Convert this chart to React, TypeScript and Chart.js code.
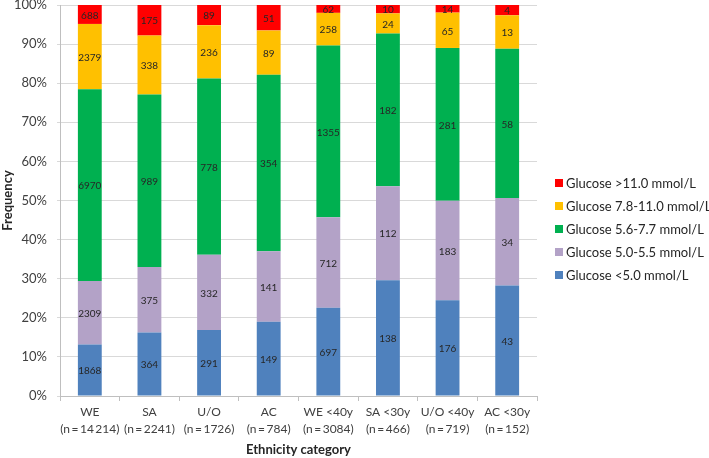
import React, { useEffect, useRef } from "react";
import { Chart, registerables } from "chart.js";

Chart.register(...registerables);

const categories: string[][] = [
  ["WE", "(n\u2009=\u200914\u2009214)"],
  ["SA", "(n\u2009=\u20092241)"],
  ["U/O", "(n\u2009=\u20091726)"],
  ["AC", "(n\u2009=\u2009784)"],
  ["WE <40y", "(n\u2009=\u20093084)"],
  ["SA <30y", "(n\u2009=\u2009466)"],
  ["U/O <40y", "(n\u2009=\u2009719)"],
  ["AC <30y", "(n\u2009=\u2009152)"],
];

const glucoseLt50 = [1868, 364, 291, 149, 697, 138, 176, 43];
const glucose50to55 = [2309, 375, 332, 141, 712, 112, 183, 34];
const glucose56to77 = [6970, 989, 778, 354, 1355, 182, 281, 58];
const glucose78to110 = [2379, 338, 236, 89, 258, 24, 65, 13];
const glucoseGt110 = [688, 175, 89, 51, 62, 10, 14, 4];

const seriesNames = [
  "Glucose <5.0 mmol/L",
  "Glucose 5.0-5.5 mmol/L",
  "Glucose 5.6-7.7 mmol/L",
  "Glucose 7.8-11.0 mmol/L",
  "Glucose >11.0 mmol/L",
];
const seriesColors = ["#4F81BD", "#B3A2C7", "#00B050", "#FFC000", "#FF0000"];
const yTicks = [0, 10, 20, 30, 40, 50, 60, 70, 80, 90, 100];

const FONT = "Lato, 'Open Sans', sans-serif";

export default function App() {
  const ref = useRef<HTMLCanvasElement>(null);
  useEffect(() => {
    document.body.style.margin = "0";
    const series = [glucoseLt50, glucose50to55, glucose56to77, glucose78to110, glucoseGt110];
    const totals = categories.map((_, i) => series.reduce((s, arr) => s + arr[i], 0));
    const labelPlugin = {
      id: "segLabels",
      afterDatasetsDraw(chart: any) {
        const ctx = chart.ctx;
        ctx.save();
        ctx.font = `10px ${FONT}`;
        ctx.fillStyle = "#262626";
        ctx.textAlign = "center";
        ctx.textBaseline = "middle";
        chart.data.datasets.forEach((ds: any, di: number) => {
          const meta = chart.getDatasetMeta(di);
          meta.data.forEach((el: any, i: number) => {
            const y = (el.y + el.base) / 2;
            ctx.fillText(String(ds.counts[i]), el.x, y + 1);
          });
        });
        ctx.restore();
      },
    };
    const legendPlugin = {
      id: "sideLegend",
      afterDraw(chart: any) {
        const ctx = chart.ctx;
        const ca = chart.chartArea;
        const n = chart.data.datasets.length;
        const rowH = 23;
        const cy = chart.height / 2;
        const x0 = ca.right + 18;
        ctx.save();
        ctx.font = `13px ${FONT}`;
        ctx.textBaseline = "middle";
        ctx.textAlign = "left";
        for (let k = 0; k < n; k++) {
          const di = n - 1 - k;
          const ds = chart.data.datasets[di];
          const y = cy + (k - (n - 1) / 2) * rowH;
          ctx.fillStyle = ds.backgroundColor;
          ctx.fillRect(x0, y - 4, 8, 8);
          ctx.fillStyle = "#262626";
          ctx.fillText(ds.label, x0 + 11, y + 1);
        }
        ctx.restore();
      },
    };
    const chart = new Chart(ref.current!, {
      type: "bar",
      data: {
        labels: categories,
        datasets: series.map((arr, si) => ({
          label: seriesNames[si],
          data: arr.map((v, i) => (v / totals[i]) * 100),
          counts: arr,
          backgroundColor: seriesColors[si],
          borderWidth: 0,
          barPercentage: 0.4,
          categoryPercentage: 1,
        })) as any,
      },
      options: {
        responsive: false,
        animation: false,
        layout: { padding: { left: 0, right: 172, top: 0, bottom: 0 } },
        plugins: {
          tooltip: { enabled: false },
          legend: { display: false },
        },
        scales: {
          x: {
            stacked: true,
            afterFit: (s: any) => {
              s.height = 62;
              s.paddingLeft = 0;
              s.paddingRight = 0;
            },
            grid: {
              offset: true,
              drawOnChartArea: false,
              drawTicks: true,
              tickLength: 5,
              color: "#BFBFBF",
            },
            border: { color: "#BFBFBF" },
            ticks: {
              autoSkip: false,
              font: { family: FONT, size: 12, lineHeight: 1.42 },
              color: "#404040",
              maxRotation: 0,
              padding: 3,
            },
            title: {
              display: true,
              text: "Ethnicity category",
              font: { family: FONT, size: 13, weight: "bold" },
              color: "#262626",
              padding: { top: 4, bottom: 0 },
            },
          },
          y: {
            stacked: true,
            min: 0,
            max: 100,
            afterFit: (s: any) => {
              s.width = 60;
              s.paddingTop = 5;
              s.paddingBottom = 0;
            },
            afterBuildTicks: (axis: any) => {
              axis.ticks = yTicks.map((v) => ({ value: v }));
            },
            grid: { color: "#D9D9D9", drawTicks: true, tickLength: 3 },
            border: { display: true, color: "#BFBFBF" },
            ticks: {
              font: { family: FONT, size: 13 },
              color: "#404040",
              padding: 10,
              callback: (v: any) => v + "%",
            },
            title: {
              display: true,
              text: "Frequency",
              font: { family: FONT, size: 13, weight: "bold" },
              color: "#262626",
              padding: { top: 0, bottom: 0 },
            },
          },
        },
      },
      plugins: [labelPlugin, legendPlugin],
    });
    return () => chart.destroy();
  }, []);
  return (
    <div style={{ width: 709, height: 458 }}>
      <canvas ref={ref} width={709} height={458} />
    </div>
  );
}
